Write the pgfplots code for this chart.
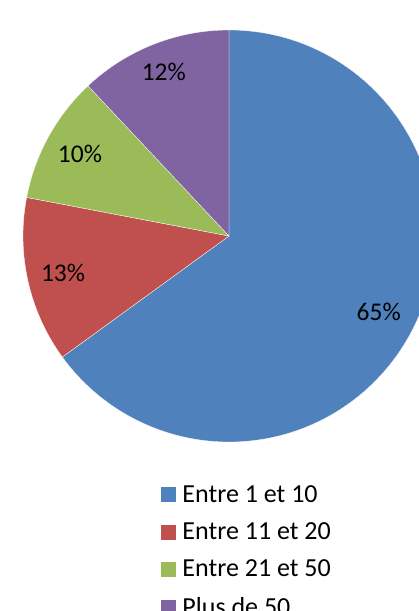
\documentclass[border=0pt]{standalone}
\usepackage{pgfplots}
\usepackage{pgfplotstable}
\pgfplotsset{compat=1.18}
\usepackage{fontspec}
\setmainfont{Carlito}
\definecolor{s1}{HTML}{4F81BD}
\definecolor{s2}{HTML}{C0504D}
\definecolor{s3}{HTML}{9BBB59}
\definecolor{s4}{HTML}{8064A2}

% share of each group, in %
\pgfplotstableread{
value
65
13
10
12
}\piedata

\begin{document}
\begin{tikzpicture}
\pgfplotstablegetelem{0}{value}\of\piedata \let\va\pgfplotsretval
\pgfplotstablegetelem{1}{value}\of\piedata \let\vb\pgfplotsretval
\pgfplotstablegetelem{2}{value}\of\piedata \let\vc\pgfplotsretval
\pgfplotstablegetelem{3}{value}\of\piedata \let\vd\pgfplotsretval
% slice boundaries, clockwise from 12 o'clock
\pgfmathsetmacro\aA{90}
\pgfmathsetmacro\aB{\aA-3.6*\va}
\pgfmathsetmacro\aC{\aB-3.6*\vb}
\pgfmathsetmacro\aD{\aC-3.6*\vc}
\pgfmathsetmacro\aE{\aD-3.6*\vd}
\pgfmathsetmacro\mA{(\aA+\aB)/2}
\pgfmathsetmacro\mB{(\aB+\aC)/2}
\pgfmathsetmacro\mC{(\aC+\aD)/2}
\pgfmathsetmacro\mD{(\aD+\aE)/2}
\def\R{206pt}
\begin{axis}[
    width=419pt, height=611pt,
    scale only axis,
    xmin=0, xmax=419, ymin=0, ymax=611,
    axis lines=none,
    clip=false,
    legend style={
        at={(0.384,0.206)}, anchor=north west,
        draw=none, fill=none,
        font=\fontsize{26}{30}\selectfont,
        row sep=19pt,
        inner sep=0pt,
        nodes={inner sep=0pt},
        /tikz/every odd column/.append style={column sep=7pt},
    },
    legend cell align=left,
    legend image code/.code={\fill[#1] (0pt,-7pt) rectangle (14pt,7pt);},
]
\fill[s1, draw=white, line width=0.3pt] (axis cs:229,375) -- ++(\aA:\R) arc[start angle=\aA, end angle=\aB, radius=\R] -- cycle;
\fill[s2, draw=white, line width=0.3pt] (axis cs:229,375) -- ++(\aB:\R) arc[start angle=\aB, end angle=\aC, radius=\R] -- cycle;
\fill[s3, draw=white, line width=0.3pt] (axis cs:229,375) -- ++(\aC:\R) arc[start angle=\aC, end angle=\aD, radius=\R] -- cycle;
\fill[s4, draw=white, line width=0.3pt] (axis cs:229,375) -- ++(\aD:\R) arc[start angle=\aD, end angle=\aE, radius=\R] -- cycle;
\path (axis cs:229,375) ++(\mA:168pt) node[font=\fontsize{25.5}{30}\selectfont] {65\%};
\path (axis cs:229,375) ++(\mB:170pt) node[font=\fontsize{25.5}{30}\selectfont] {13\%};
\path (axis cs:229,375) ++(\mC:170pt) node[font=\fontsize{25.5}{30}\selectfont] {10\%};
\path (axis cs:229,375) ++(\mD:177pt) node[font=\fontsize{25.5}{30}\selectfont] {12\%};
\addlegendimage{s1}\addlegendentry{Entre 1 et 10}
\addlegendimage{s2}\addlegendentry{Entre 11 et 20}
\addlegendimage{s3}\addlegendentry{Entre 21 et 50}
\addlegendimage{s4}\addlegendentry{Plus de 50}
\end{axis}
\pgfresetboundingbox
\useasboundingbox (0,0) rectangle (419pt,611pt);
\end{tikzpicture}
\end{document}
